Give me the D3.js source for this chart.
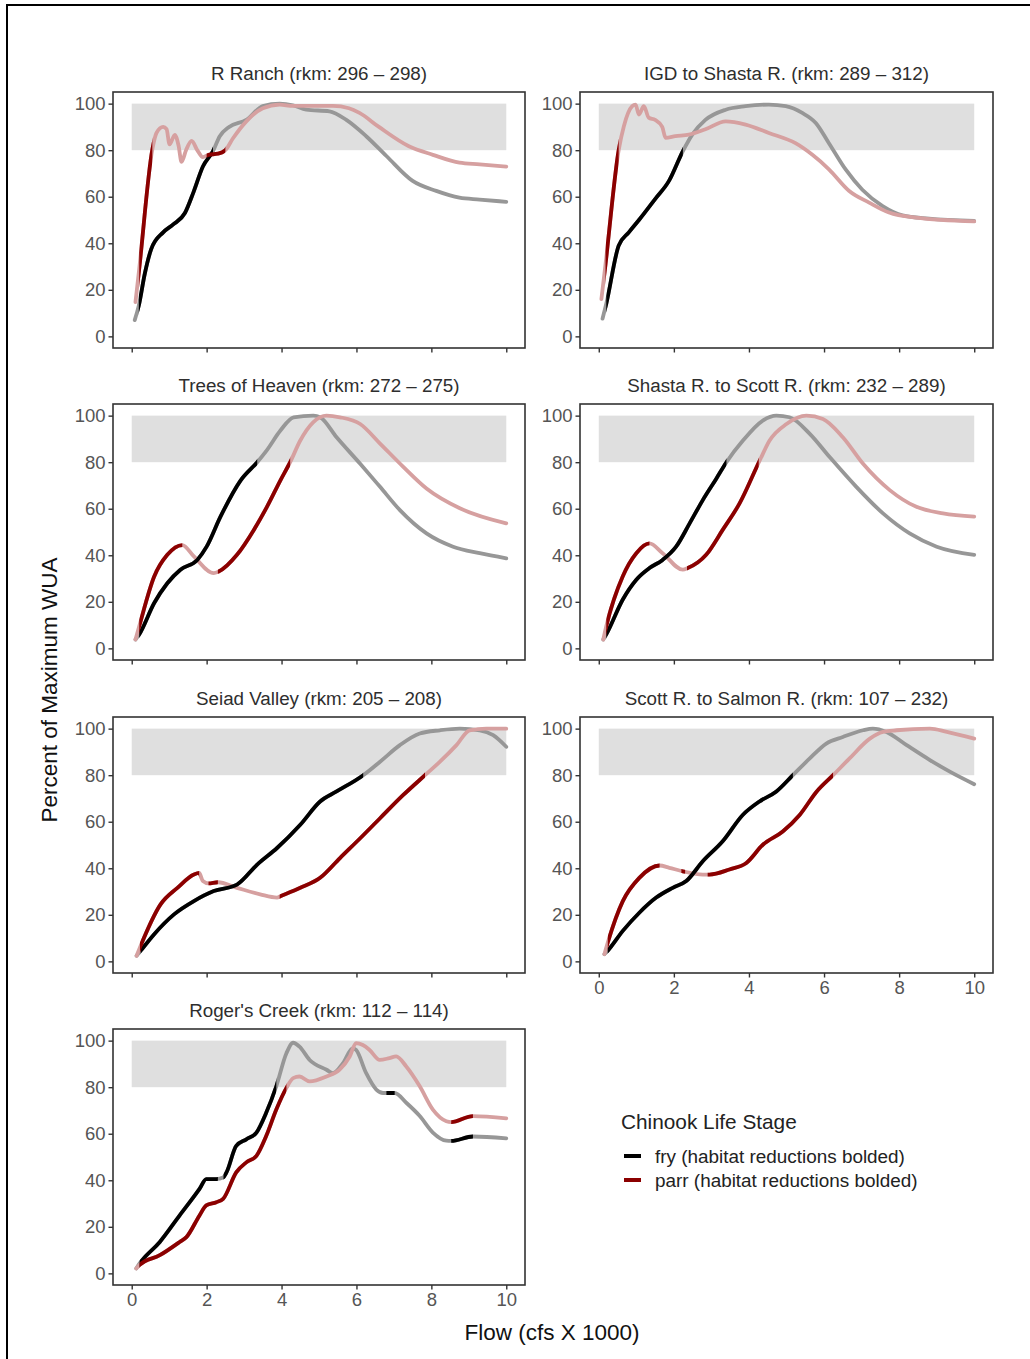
<!DOCTYPE html>
<html>
<head>
<meta charset="utf-8">
<script src="https://cdn.jsdelivr.net/npm/d3@7"></script>
<style>
  html, body { margin: 0; padding: 0; background: #fff; }
  svg { display: block; font-family: "Liberation Sans", Arial, sans-serif; }
</style>
</head>
<body>
<svg id="chart" width="1030" height="1359"></svg>
<script>
// ---------------- DATA ----------------
const panelTitles = [
  "R Ranch (rkm: 296 \u2013 298)",
  "IGD to Shasta R. (rkm: 289 \u2013 312)",
  "Trees of Heaven (rkm: 272 \u2013 275)",
  "Shasta R. to Scott R. (rkm: 232 \u2013 289)",
  "Seiad Valley (rkm: 205 \u2013 208)",
  "Scott R. to Salmon R. (rkm: 107 \u2013 232)",
  "Roger's Creek (rkm: 112 \u2013 114)"
];
const xTicks = [0, 2, 4, 6, 8, 10];
const yTicks = [0, 20, 40, 60, 80, 100];
const bandRange = [80, 100];
const seriesNames = ["fry (habitat reductions bolded)", "parr (habitat reductions bolded)"];
const legendTitle = "Chinook Life Stage";

// [flow (cfs x 1000), percent of maximum WUA]
const rRanchFry = [[0.08,7],[0.19,13.3],[0.35,27],[0.52,37.5],[0.84,44.7],[1.1,48],[1.42,53],[1.65,62],[1.9,73],[2.17,79.6],[2.35,86],[2.6,90],[3.06,93],[3.5,99],[3.95,100],[4.3,99.3],[4.66,97.4],[5.28,96.7],[5.73,93],[6.26,86],[6.8,77.5],[7.5,66.8],[8.13,62.5],[8.75,59.6],[9.29,58.8],[10,57.8]];
const rRanchParr = [[0.1,14.7],[0.2,29],[0.55,80.3],[0.66,87.4],[0.84,90],[0.93,89],[1.01,82.5],[1.15,86.6],[1.25,82],[1.33,75],[1.45,80],[1.6,84],[1.75,80],[1.9,77],[2.05,78],[2.3,78.5],[2.5,80],[2.7,85],[3.06,92.4],[3.5,98],[3.95,99.6],[4.3,99],[4.84,99],[5.37,99],[5.8,98],[6.08,96],[6.6,90],[7.4,81.7],[8.04,78],[8.75,74.6],[9.29,73.9],[10,72.9]];
const rRanchFryBold = [[0.19,2.17]];
const rRanchParrBold = [[0.2,0.55],[2.0,2.5]];

const igdFry = [[0.1,7.6],[0.2,14],[0.53,39],[0.8,44.7],[1.07,50],[1.5,59],[1.87,66.8],[2.24,79.6],[2.49,86.7],[2.84,93],[3.38,97.4],[3.91,98.9],[4.53,99.6],[4.98,98.9],[5.42,96],[5.78,91.7],[6.13,83],[6.58,71.6],[7.02,63],[7.56,56],[8.09,52],[8.8,50.6],[10,49.6]];
const igdParr = [[0.07,16],[0.18,31],[0.53,80],[0.67,90.4],[0.89,98.9],[0.98,99.6],[1.07,95.3],[1.2,98.9],[1.33,94],[1.5,93],[1.69,90],[1.78,85.3],[2.04,86],[2.4,86.7],[2.84,89],[3.38,92.4],[3.91,91],[4.53,87.4],[5.24,83],[5.69,78],[6.13,71.8],[6.67,62.5],[7.2,57.5],[7.73,53.2],[8.44,51],[10,49.4]];
const igdFryBold = [[0.2,2.24]];
const igdParrBold = [[0.18,0.53]];

const treesFry = [[0.1,3.8],[0.2,6],[0.6,19.5],[0.95,28],[1.3,33.8],[1.75,38],[2.0,43.7],[2.37,56.6],[2.9,72],[3.35,80],[3.6,85],[3.97,93.6],[4.32,99.3],[4.85,100],[5.03,99.3],[5.47,90.7],[6.1,79.3],[6.63,69.4],[7.16,59.4],[7.87,49.4],[8.58,43.7],[9.29,40.9],[10,38.7]];
const treesParr = [[0.1,3.8],[0.2,9.5],[0.6,30.9],[0.95,40.2],[1.35,44.4],[1.66,39.5],[2.19,32.3],[2.32,33],[2.81,40.2],[3.26,50.9],[3.61,60.8],[3.97,72.2],[4.23,80],[4.5,89.3],[4.85,97.2],[5.2,100],[5.56,99.3],[6.1,96.4],[6.63,88],[7.25,78],[7.87,68.7],[8.76,60.2],[10,53.7]];
const treesFryBold = [[0.2,3.35]];
const treesParrBold = [[0.2,1.35],[2.3,4.23]];

const shastaFry = [[0.12,3.8],[0.2,6],[0.64,21],[1.0,29.5],[1.35,34.5],[1.7,38],[2.06,43.7],[2.42,53.7],[2.77,63.7],[3.13,72.9],[3.4,80],[3.84,89.3],[4.37,97.9],[4.73,100],[5.08,99.3],[5.62,92.2],[6.15,82.2],[6.86,69.4],[7.57,58],[8.28,49.4],[9.0,43.7],[10,40.2]];
const shastaParr = [[0.12,3.8],[0.2,9.5],[0.64,31],[1.0,40.9],[1.35,45.1],[1.7,40.9],[2.24,33.8],[2.37,34.5],[2.86,40.2],[3.3,50.9],[3.75,62.3],[4.28,80.5],[4.55,89.3],[5.0,96.4],[5.53,100],[5.97,98.6],[6.5,90.7],[7.04,79.3],[7.75,68],[8.46,60.8],[9.17,58],[10,56.6]];
const shastaFryBold = [[0.2,3.4]];
const shastaParrBold = [[0.2,1.35],[2.35,4.26]];

const seiadFry = [[0.13,2.4],[0.24,4.6],[0.6,11.7],[1.13,20.2],[1.66,25.9],[2.19,30.2],[2.81,33],[3.35,41.6],[3.88,48.7],[4.5,58.7],[5.03,68.7],[5.47,73],[6.18,80],[6.63,85.8],[7.16,92.9],[7.69,97.9],[8.23,99.3],[8.76,100],[9.29,99.3],[9.65,97.2],[10,92.2]];
const seiadParr = [[0.13,2.4],[0.22,6],[0.77,24.5],[1.22,31.6],[1.66,37.3],[1.8,38],[1.9,34.5],[2.05,33.5],[2.3,34],[2.81,31.6],[3.43,28.8],[3.88,27.4],[3.97,28],[4.5,31.6],[5.03,35.9],[5.56,44.4],[6.1,52.9],[6.63,61.5],[7.25,71.5],[7.83,80],[8.23,85.8],[8.67,92.9],[9.02,99.3],[9.47,100],[10,100]];
const seiadFryBold = [[0.24,6.18]];
const seiadParrBold = [[0.22,1.8],[2.05,2.3],[3.95,7.83]];

const scottFry = [[0.15,3.1],[0.24,4.6],[0.64,13.1],[1.08,20.9],[1.53,27.4],[1.97,31.6],[2.33,34.5],[2.77,43],[3.3,51.6],[3.84,63],[4.28,68.7],[4.73,73],[5.17,80],[5.62,87.2],[6.06,93.6],[6.5,96.4],[7.04,99.3],[7.3,100],[7.66,98.6],[8.2,92.9],[8.82,86.5],[9.35,81.5],[10,76.1]];
const scottParr = [[0.15,3.1],[0.24,8.1],[0.64,25.9],[1.08,35.9],[1.62,41.2],[1.88,40.2],[2.24,38.7],[2.77,37.3],[2.95,37.3],[3.48,39.5],[3.93,42.3],[4.37,50.1],[4.9,55.8],[5.35,62.9],[5.8,72.9],[6.24,80],[6.68,87.2],[7.22,95.7],[7.57,98.6],[7.93,99.3],[8.82,100],[9.27,98.6],[10,95.7]];
const scottFryBold = [[0.24,5.17]];
const scottParrBold = [[0.24,1.62],[2.2,2.3],[2.9,6.24]];

const rogersFry = [[0.12,2.1],[0.21,4.3],[0.75,13.5],[1.28,24.9],[1.81,36.3],[1.99,40.5],[2.26,40.5],[2.44,41.2],[2.53,43.4],[2.79,54.8],[3.06,57.6],[3.33,60.5],[3.59,69],[3.86,80.4],[4.13,94.6],[4.31,99.1],[4.48,97.4],[4.75,91.7],[5.2,87.5],[5.37,86],[5.64,90.3],[5.9,96.7],[5.99,96],[6.26,86],[6.53,79],[6.71,77.5],[7.02,77.5],[7.33,73.3],[7.69,67.6],[8.04,60.5],[8.4,57],[8.53,56.9],[9.11,58.8],[10,58]];
const rogersParr = [[0.12,2.1],[0.21,3.6],[0.75,7.8],[1.28,13.5],[1.46,15.6],[1.81,24.9],[1.99,29.2],[2.26,30.6],[2.44,32],[2.79,43.4],[3.06,47.7],[3.33,50.5],[3.59,59],[3.86,70.4],[4.13,79.7],[4.31,83.9],[4.48,84.6],[4.75,82.5],[5.2,84.6],[5.55,87.5],[5.82,93.2],[5.99,98.9],[6.17,98.1],[6.35,96],[6.62,91.7],[6.88,92.5],[7.06,93.2],[7.33,88.9],[7.69,80.4],[8.04,70.4],[8.4,65.4],[8.53,65],[9.11,67.6],[10,66.6]];
const rogersFryBold = [[0.21,2.3],[2.45,3.86],[6.8,7.02],[8.53,9.11]];
const rogersParrBold = [[0.21,4.13],[8.53,9.11]];

const fryData = [rRanchFry, igdFry, treesFry, shastaFry, seiadFry, scottFry, rogersFry];
const parrData = [rRanchParr, igdParr, treesParr, shastaParr, seiadParr, scottParr, rogersParr];
const fryBold = [rRanchFryBold, igdFryBold, treesFryBold, shastaFryBold, seiadFryBold, scottFryBold, rogersFryBold];
const parrBold = [rRanchParrBold, igdParrBold, treesParrBold, shastaParrBold, seiadParrBold, scottParrBold, rogersParrBold];

// ---------------- LAYOUT / STYLE ----------------
const colLeft = [113, 580];
const rowTop = [92, 404, 717, 1029];
const panelW = 412, panelH = 256;
const fadedColor = ["#979797", "#d6a0a0"];
const boldColor = ["#000000", "#8b0000"];
const lineW = 3.8;
const FONT = '"Liberation Sans", Arial, sans-serif';

const svg = d3.select("#chart");

// outer frame
svg.append("rect").attr("x", 7).attr("y", 5).attr("width", 1100).attr("height", 1500)
  .attr("fill", "none").attr("stroke", "#000").attr("stroke-width", 2);

let clipId = 0;

panelTitles.forEach((title, i) => {
  const col = i % 2, row = Math.floor(i / 2);
  const left = colLeft[col], top = rowTop[row];
  const w = col === 1 ? panelW + 1 : panelW;
  const x = d3.scaleLinear().domain([-0.5, 10.5]).range([left, left + w]);
  const y = d3.scaleLinear().domain([-5, 105]).range([top + panelH, top]);
  const g = svg.append("g");

  // band 80-100
  g.append("rect")
    .attr("x", x(0)).attr("width", x(10) - x(0))
    .attr("y", y(bandRange[1])).attr("height", y(bandRange[0]) - y(bandRange[1]))
    .attr("fill", "#dfdfdf");

  const line = d3.line().x(d => x(d[0])).y(d => y(d[1])).curve(d3.curveMonotoneX);

  const sets = [[fryData[i], fryBold[i]], [parrData[i], parrBold[i]]];
  // faded full lines
  sets.forEach((s, k) => {
    g.append("path").attr("d", line(s[0])).attr("fill", "none")
      .attr("stroke", fadedColor[k]).attr("stroke-width", lineW)
      .attr("stroke-linejoin", "round").attr("stroke-linecap", "round");
  });
  // bold segments (clipped to x-intervals)
  sets.forEach((s, k) => {
    const id = "clip" + (clipId++);
    const cp = svg.append("clipPath").attr("id", id);
    s[1].forEach(iv => {
      cp.append("rect").attr("x", x(iv[0])).attr("width", x(iv[1]) - x(iv[0]))
        .attr("y", top).attr("height", panelH);
    });
    g.append("path").attr("d", line(s[0])).attr("fill", "none")
      .attr("clip-path", `url(#${id})`)
      .attr("stroke", boldColor[k]).attr("stroke-width", lineW)
      .attr("stroke-linejoin", "round");
  });

  // border
  g.append("rect").attr("x", left).attr("y", top).attr("width", w).attr("height", panelH)
    .attr("fill", "none").attr("stroke", "#333").attr("stroke-width", 1.6);

  // axes
  const yAxis = g.append("g").attr("transform", `translate(${left},0)`)
    .call(d3.axisLeft(y).tickValues(yTicks).tickSize(4.5).tickPadding(3));
  const showX = (i === 5 || i === 6);
  const xAxis = g.append("g").attr("transform", `translate(0,${top + panelH})`)
    .call(d3.axisBottom(x).tickValues(xTicks).tickSize(4.5).tickPadding(3)
      .tickFormat(showX ? d3.format("d") : () => ""));
  [yAxis, xAxis].forEach(a => {
    a.select(".domain").remove();
    a.selectAll(".tick line").attr("stroke", "#333").attr("stroke-width", 1.4);
    a.selectAll(".tick text").attr("fill", "#555").style("font-size", "18.5px").style("font-family", FONT);
  });

  // strip title
  g.append("text").attr("x", left + w / 2).attr("y", top - 12)
    .attr("text-anchor", "middle").attr("fill", "#2e2e2e")
    .style("font-size", "18.8px").style("font-family", FONT)
    .text(title);
});

// axis titles
svg.append("text").attr("transform", "translate(57,690) rotate(-90)")
  .attr("text-anchor", "middle").attr("fill", "#111")
  .style("font-size", "22.5px").style("font-family", FONT)
  .text("Percent of Maximum WUA");
svg.append("text").attr("x", 552).attr("y", 1340)
  .attr("text-anchor", "middle").attr("fill", "#111")
  .style("font-size", "22.5px").style("font-family", FONT)
  .text("Flow (cfs X 1000)");

// legend
const lg = svg.append("g");
lg.append("text").attr("x", 621).attr("y", 1129).attr("fill", "#222")
  .style("font-size", "20.8px").style("font-family", FONT).text(legendTitle);
seriesNames.forEach((name, k) => {
  const cy = 1156 + k * 24;
  lg.append("line").attr("x1", 624).attr("x2", 641).attr("y1", cy).attr("y2", cy)
    .attr("stroke", boldColor[k]).attr("stroke-width", 4);
  lg.append("text").attr("x", 655).attr("y", cy).attr("dy", "0.35em").attr("fill", "#222")
    .style("font-size", "18.9px").style("font-family", FONT).text(name);
});
</script>
</body>
</html>
